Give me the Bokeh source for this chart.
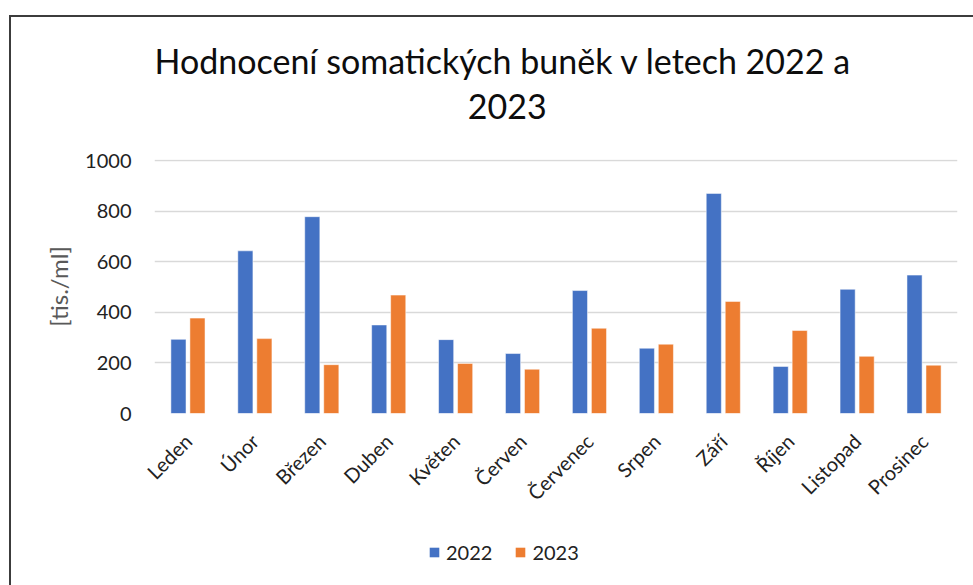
import math
from bokeh.plotting import figure
from bokeh.layouts import column
from bokeh.models import FactorRange, Range1d, Legend, LegendItem, ColumnDataSource
from bokeh.transform import dodge
from bokeh.embed import file_html
from bokeh.resources import INLINE

months = ["Leden", "Únor", "Březen", "Duben", "Květen", "Červen",
          "Červenec", "Srpen", "Září", "Říjen", "Listopad", "Prosinec"]
values_2022 = [293, 643, 778, 350, 292, 237, 486, 258, 870, 186, 491, 547]
values_2023 = [377, 296, 193, 468, 198, 175, 337, 274, 443, 328, 226, 191]
series_names = ["2022", "2023"]
y_ticks = [0, 200, 400, 600, 800, 1000]
title_line1 = "Hodnocení somatických buněk v letech 2022 a"
title_line2 = "2023"

FONT = "Lato"
BLUE = "#4472C4"
ORANGE = "#ED7D31"
BORDER = "#3c3c3c"
TEXT = "#222222"

src = ColumnDataSource(dict(month=months, v2022=values_2022, v2023=values_2023))

# ---------------- main chart ----------------
p = figure(x_range=FactorRange(*months), y_range=Range1d(0, 1004),
           frame_width=803, frame_height=254,
           output_backend="svg", toolbar_location=None,
           min_border_left=154, min_border_right=16, min_border_top=159,
           min_border_bottom=125)
p.border_fill_color = None
p.styles = {
    "background": (f"linear-gradient({BORDER},{BORDER}) 9px 15px / calc(100% - 9px) 2px no-repeat, "
                   f"linear-gradient({BORDER},{BORDER}) 9px 15px / 2px calc(100% - 15px) no-repeat")
}

p.vbar(x=dodge("month", -0.142, range=p.x_range), top="v2022", width=0.226,
       source=src, fill_color=BLUE, line_color="white", line_alpha=0.5, line_width=1)
p.vbar(x=dodge("month", 0.142, range=p.x_range), top="v2023", width=0.226,
       source=src, fill_color=ORANGE, line_color="white", line_alpha=0.5, line_width=1)

# second line padded with no-break spaces so it sits centred under the first
p.title.text = title_line1 + "\n" + "\u00a0" * 36 + title_line2
p.title.align = "left"
p.title.offset = 0
p.title.text_font = FONT
p.title.text_font_size = "34px"
p.title.text_font_style = "normal"
p.title.text_color = "#0d0d0d"
p.title.text_line_height = 1.1
p.title.standoff = 66

p.outline_line_color = None
p.xgrid.grid_line_color = None
p.ygrid.grid_line_color = "#D9D9D9"
p.ygrid.grid_line_width = 1.5

p.yaxis.ticker = y_ticks
p.yaxis.axis_line_color = None
p.yaxis.major_tick_line_color = None
p.yaxis.minor_tick_line_color = None
p.yaxis.major_tick_out = 0
p.yaxis.major_tick_in = 0
p.yaxis.minor_tick_out = 0
p.yaxis.major_label_standoff = 23
p.yaxis.major_label_text_font = FONT
p.yaxis.major_label_text_font_size = "20px"
p.yaxis.major_label_text_color = TEXT
p.yaxis.axis_label = "[tis./ml]"
p.yaxis.axis_label_text_font = FONT
p.yaxis.axis_label_text_font_size = "24px"
p.yaxis.axis_label_text_font_style = "normal"
p.yaxis.axis_label_text_color = "#595959"
p.yaxis.axis_label_standoff = 9

p.xaxis.axis_line_color = None
p.xaxis.major_tick_line_color = None
p.xaxis.minor_tick_line_color = None
p.xaxis.major_tick_out = 0
p.xaxis.major_tick_in = 0
p.xaxis.minor_tick_out = 0
p.xaxis.major_label_orientation = math.pi / 4
p.xaxis.major_label_standoff = 24
p.xaxis.major_label_text_font = FONT
p.xaxis.major_label_text_font_size = "20px"
p.xaxis.major_label_text_color = TEXT

# ---------------- legend strip ----------------
leg = figure(width=973, height=47, x_range=Range1d(0, 1), y_range=Range1d(0, 1),
             output_backend="svg", toolbar_location=None,
             min_border=0, min_border_left=0, min_border_right=0,
             min_border_top=0, min_border_bottom=0)
leg.axis.visible = False
leg.grid.visible = False
leg.outline_line_color = None
leg.background_fill_color = None
leg.border_fill_color = None
leg.title.visible = False
leg.styles = {
    "background": f"linear-gradient({BORDER},{BORDER}) 9px 0px / 2px 100% no-repeat"
}
# hidden proxy renderers (same series data) that give the legend its swatches
g1 = leg.vbar(x="v2022", top="v2022", width=0.1, source=src,
              fill_color=BLUE, line_color=None, visible=False)
g2 = leg.vbar(x="v2023", top="v2023", width=0.1, source=src,
              fill_color=ORANGE, line_color=None, visible=False)

legend = Legend(items=[LegendItem(label=series_names[0], renderers=[g1]),
                       LegendItem(label=series_names[1], renderers=[g2])],
                orientation="horizontal", location=(274, 21),
                glyph_width=12, glyph_height=12, label_standoff=6, spacing=22,
                padding=0, margin=0, border_line_color=None,
                background_fill_alpha=0, inactive_fill_alpha=0,
                label_text_font=FONT, label_text_font_size="20px",
                label_text_color=TEXT)
leg.add_layout(legend, "center")

layout = column(p, leg, spacing=0)
open("out.html", "w").write(file_html(layout, INLINE))
